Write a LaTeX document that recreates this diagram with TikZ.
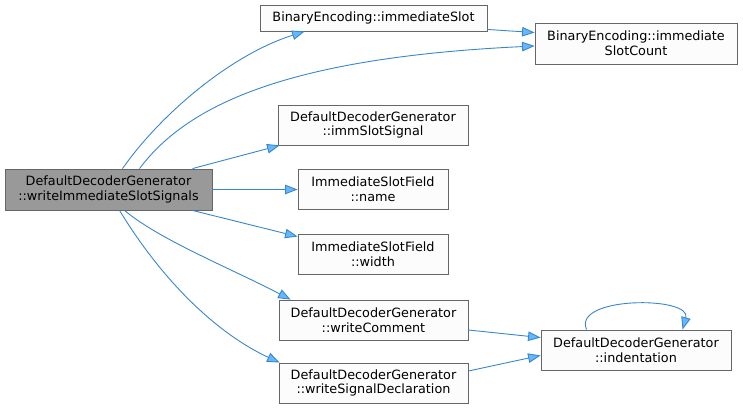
\documentclass[tikz,border=0pt]{standalone}
\usepackage{fontspec}
\setmainfont{DejaVu Sans}
\usetikzlibrary{arrows.meta,calc}
\definecolor{edgecol}{HTML}{3A86CB}
\definecolor{arrowfill}{HTML}{63B8FF}
\definecolor{nodeborder}{HTML}{666666}
\definecolor{nodefill}{HTML}{FBFCFB}
\definecolor{mainfill}{HTML}{999999}
\tikzset{
  fn/.style={draw=nodeborder, fill=nodefill, line width=0.9pt, inner sep=0pt, align=center,
    font=\fontsize{12.8}{14.6}\selectfont, rectangle},
  mainfn/.style={fn, fill=mainfill},
  call/.style={draw=edgecol, line width=0.9pt,
    -{Triangle[length=12.5pt,width=9.5pt,fill=arrowfill]}},
}
\begin{document}
\begin{tikzpicture}[x=1pt,y=-1pt]
\useasboundingbox (0,0) rectangle (743,407);
\node[mainfn, minimum width=207pt, minimum height=41pt] (main) at (108.5,189.5)
  {DefaultDecoderGenerator\\::writeImmediateSlotSignals};
\node[fn, minimum width=227pt, minimum height=26pt] (slot) at (373.5,18)
  {BinaryEncoding::immediateSlot};
\node[fn, minimum width=202pt, minimum height=41pt] (count) at (636,43.5)
  {BinaryEncoding::immediate\\SlotCount};
\node[fn, minimum width=190pt, minimum height=40pt] (imm) at (373,125)
  {DefaultDecoderGenerator\\::immSlotSignal};
\node[fn, minimum width=150pt, minimum height=40pt] (name) at (373,189.5)
  {ImmediateSlotField\\::name};
\node[fn, minimum width=150pt, minimum height=40pt] (width) at (373,254)
  {ImmediateSlotField\\::width};
\node[fn, minimum width=189pt, minimum height=40pt] (comment) at (373.5,320)
  {DefaultDecoderGenerator\\::writeComment};
\node[fn, minimum width=189pt, minimum height=40pt] (decl) at (373.5,383)
  {DefaultDecoderGenerator\\::writeSignalDeclaration};
\node[fn, minimum width=190pt, minimum height=40pt] (ind) at (636,350)
  {DefaultDecoderGenerator\\::indentation};

% edges
\draw[call] ($(main.north west)+(118,0)$) .. controls (160,115) and (230,55) .. ($(slot.south west)+(45,0)$);
\draw[call] ($(main.north west)+(135,0)$) .. controls (185,108) and (280,58) .. ($(count.west)+(0,2.5)$);
\draw[call] ($(slot.south east)+(0,-2)$) -- ($(count.north west)+(0,10)$);
\draw[call] ($(main.north west)+(188,0)$) -- ($(imm.south west)+(2,0)$);
\draw[call] (main.east) -- (name.west);
\draw[call] ($(main.south west)+(188,0)$) -- ($(width.north west)+(0,3)$);
\draw[call] ($(main.south west)+(120,0)$) .. controls (160,240) and (230,268) .. ($(comment.north west)+(12,0)$);
\draw[call] ($(main.south west)+(115,0)$) .. controls (165,285) and (220,335) .. ($(decl.north west)+(1,0)$);
\draw[call] ($(comment.east)+(0,10)$) -- ($(ind.north west)+(0,8)$);
\draw[call] ($(decl.east)+(0,-12)$) -- ($(ind.south west)+(0,-15)$);
\draw[call] ($(ind.north west)+(46,0)$) .. controls (572,296) and (692,296) .. ($(ind.north west)+(142,0)$);
\end{tikzpicture}
\end{document}
